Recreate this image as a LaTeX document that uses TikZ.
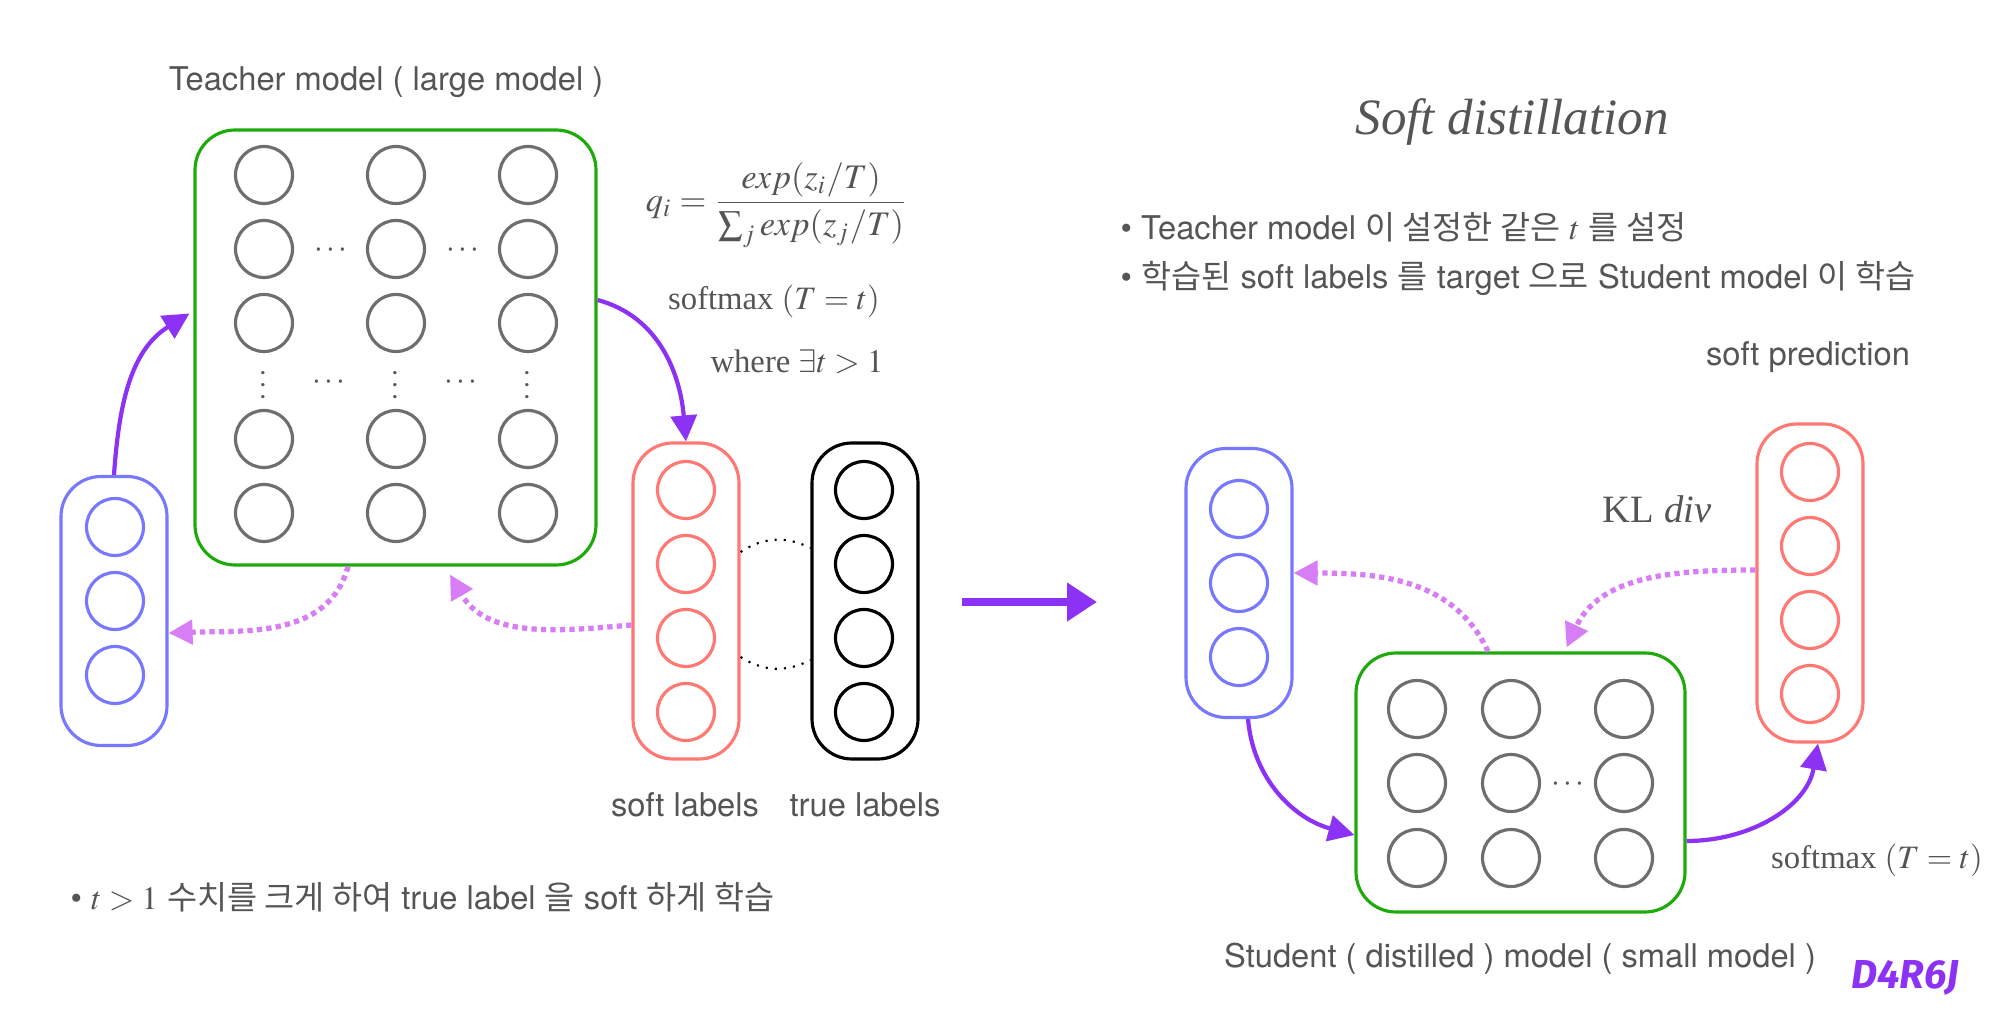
\documentclass[tikz,border=0pt]{standalone}
\usepackage{mathptmx}
\usepackage[no-math]{fontspec}
\setmainfont{TeX Gyre Heros}
\newfontfamily\kr{Noto Sans CJK KR}
\newfontfamily\tms{Liberation Serif}
\newfontfamily\sigfont{Fira Sans}
\usetikzlibrary{arrows.meta}

\definecolor{netgreen}{RGB}{30,170,10}
\definecolor{unitgray}{RGB}{110,110,110}
\definecolor{inblue}{RGB}{120,120,255}
\definecolor{softred}{RGB}{255,120,115}
\definecolor{fwdpurple}{RGB}{140,50,245}
\definecolor{backviolet}{RGB}{215,125,245}
\definecolor{txtgray}{RGB}{85,85,85}

\begin{document}
\begin{tikzpicture}[
                lbl/.style={text=txtgray, inner sep=0pt, font=\fontsize{9.3}{11}\selectfont},
                mth/.style={text=txtgray, inner sep=0pt, font=\tms\fontsize{9.3}{11}\selectfont},
                neuron/.style={circle, draw=#1, line width=0.9pt, minimum size=5.7mm, inner sep=0pt},
                pill/.style={draw=#1, line width=0.9pt, rounded corners=4mm, minimum width=1.06cm, inner sep=0pt},
                net/.style={draw=netgreen, line width=0.9pt, rounded corners=4mm, inner sep=0pt},
                dts/.style={text=txtgray, inner sep=0pt, font=\fontsize{9}{10}\selectfont},
                fwdarrow/.style={draw=fwdpurple, line width=1.2pt, -{Triangle[length=2.6mm, width=2.6mm]}},
                backarrow/.style={draw=backviolet, line width=1.5pt, dash pattern=on 1.5pt off 1.2pt, -{Triangle[length=2.4mm, width=2.4mm]}},
                link/.style={draw=black, line width=0.6pt, dotted}
            ]
            \useasboundingbox (0,0) rectangle (20,-10.17);

            % Teacher network
            \node[lbl] (ttl) at (3.86,-0.82) {Teacher model ( large model )};
            \node[net, minimum width=4.01cm, minimum height=4.35cm] (tch) at (3.955,-3.475) {};
            \node[neuron=unitgray] (t11) at (2.64,-1.75) {};
            \node[neuron=unitgray] (t12) at (3.96,-1.75) {};
            \node[neuron=unitgray] (t13) at (5.28,-1.75) {};
            \node[neuron=unitgray] (t21) at (2.64,-2.49) {};
            \node[neuron=unitgray] (t22) at (3.96,-2.49) {};
            \node[neuron=unitgray] (t23) at (5.28,-2.49) {};
            \node[neuron=unitgray] (t31) at (2.64,-3.23) {};
            \node[neuron=unitgray] (t32) at (3.96,-3.23) {};
            \node[neuron=unitgray] (t33) at (5.28,-3.23) {};
            \node[neuron=unitgray] (t41) at (2.64,-4.39) {};
            \node[neuron=unitgray] (t42) at (3.96,-4.39) {};
            \node[neuron=unitgray] (t43) at (5.28,-4.39) {};
            \node[neuron=unitgray] (t51) at (2.64,-5.13) {};
            \node[neuron=unitgray] (t52) at (3.96,-5.13) {};
            \node[neuron=unitgray] (t53) at (5.28,-5.13) {};
            \node[dts] (h21) at (3.31,-2.51) {$\cdots$};
            \node[dts] (h22) at (4.63,-2.51) {$\cdots$};
            \node[dts, rotate=90] (v1) at (2.64,-3.85) {$\cdots$};
            \node[dts, rotate=90] (v2) at (3.96,-3.85) {$\cdots$};
            \node[dts, rotate=90] (v3) at (5.28,-3.85) {$\cdots$};
            \node[dts] (h31) at (3.29,-3.83) {$\cdots$};
            \node[dts] (h32) at (4.61,-3.83) {$\cdots$};

            % Input layer
            \node[pill=inblue, minimum height=2.69cm] (bin) at (1.14,-6.11) {};
            \node[neuron=inblue] (b1) at (1.15,-5.27) {};
            \node[neuron=inblue] (b2) at (1.15,-6.01) {};
            \node[neuron=inblue] (b3) at (1.15,-6.75) {};

            % Soft labels and true labels
            \node[pill=softred, minimum height=3.16cm] (sl) at (6.86,-6.01) {};
            \node[neuron=softred] (s1) at (6.86,-4.90) {};
            \node[neuron=softred] (s2) at (6.86,-5.64) {};
            \node[neuron=softred] (s3) at (6.86,-6.38) {};
            \node[neuron=softred] (s4) at (6.86,-7.12) {};
            \node[pill=black, minimum height=3.16cm] (tl) at (8.65,-6.01) {};
            \node[neuron=black] (y1) at (8.64,-4.90) {};
            \node[neuron=black] (y2) at (8.64,-5.64) {};
            \node[neuron=black] (y3) at (8.64,-6.38) {};
            \node[neuron=black] (y4) at (8.64,-7.12) {};
            \node[lbl] (slb) at (6.85,-8.05) {soft labels};
            \node[lbl] (tlb) at (8.65,-8.05) {true labels};
            \draw[link] ([yshift=4.9mm]sl.east) to[bend left=30] ([yshift=5.3mm]tl.west);
            \draw[link] ([yshift=-5.6mm]sl.east) to[bend right=30] ([yshift=-5.9mm]tl.west);

            % Softmax with temperature
            \node[mth, font=\tms\fontsize{9.8}{12}\selectfont] (fq) at (7.77,-2.05) {$q_i=\displaystyle\frac{exp(z_i/T)}{\sum_j exp(z_j/T)}$};
            \node[mth] (smx) at (7.74,-3.01) {softmax $(T=t)$};
            \node[mth] (whr) at (7.97,-3.62) {where $\exists t>1$};

            \draw[fwdarrow] (bin.north) to[out=86, in=212] ([xshift=-0.4mm, yshift=3.4mm]tch.west);
            \draw[fwdarrow] ([yshift=4.75mm]tch.east) to[out=-15, in=95] (sl.north);
            \draw[backarrow] ([xshift=-4.75mm]tch.south) to[out=-105, in=2] ([yshift=-2.2mm]bin.east);
            \draw[backarrow] ([yshift=-2.4mm]sl.west) to[out=185, in=-60] ([xshift=5.45mm, yshift=-0.8mm]tch.south);

            \node[lbl, anchor=west] (note1) at (0.70,-8.97) {• $t>1$ {\kr 수치를 크게 하여} true label {\kr 을} soft {\kr 하게 학습}};

            % Arrow between halves
            \coordinate (bs) at (9.62,-6.02);
            \coordinate (be) at (10.97,-6.02);
            \draw[draw=fwdpurple, line width=2.3pt, -{Triangle[length=3mm, width=3.7mm]}] (bs) -- (be);

            % Soft distillation
            \node[text=txtgray, inner sep=0pt, font=\tms\itshape\fontsize{14.5}{16}\selectfont] (ttl2) at (15.12,-1.22) {Soft distillation};
            \node[lbl, anchor=west] (note2) at (11.20,-2.27) {• Teacher model {\kr 이 설정한 같은} $t$ {\kr 를 설정}};
            \node[lbl, anchor=west] (note3) at (11.20,-2.78) {• {\kr 학습된} soft labels {\kr 를} target {\kr 으로} Student model {\kr 이 학습}};
            \node[lbl] (spl) at (18.08,-3.57) {soft prediction};

            % Student network
            \node[pill=inblue, minimum height=2.69cm] (sin) at (12.39,-5.83) {};
            \node[neuron=inblue] (c1) at (12.39,-5.09) {};
            \node[neuron=inblue] (c2) at (12.39,-5.83) {};
            \node[neuron=inblue] (c3) at (12.39,-6.57) {};
            \node[net, minimum width=3.29cm, minimum height=2.59cm] (stu) at (15.205,-7.825) {};
            \node[neuron=unitgray] (u11) at (14.17,-7.09) {};
            \node[neuron=unitgray] (u12) at (15.11,-7.09) {};
            \node[neuron=unitgray] (u13) at (16.24,-7.09) {};
            \node[neuron=unitgray] (u21) at (14.17,-7.83) {};
            \node[neuron=unitgray] (u22) at (15.11,-7.83) {};
            \node[neuron=unitgray] (u23) at (16.24,-7.83) {};
            \node[neuron=unitgray] (u31) at (14.17,-8.58) {};
            \node[neuron=unitgray] (u32) at (15.11,-8.58) {};
            \node[neuron=unitgray] (u33) at (16.24,-8.58) {};
            \node[dts] (h2) at (15.68,-7.85) {$\cdots$};
            \node[pill=softred, minimum height=3.18cm] (spr) at (18.10,-5.83) {};
            \node[neuron=softred] (p1) at (18.10,-4.72) {};
            \node[neuron=softred] (p2) at (18.10,-5.46) {};
            \node[neuron=softred] (p3) at (18.10,-6.20) {};
            \node[neuron=softred] (p4) at (18.10,-6.94) {};
            \node[mth, font=\tms\fontsize{11}{13}\selectfont] (kl) at (16.57,-5.09) {KL \textit{div}};
            \node[mth] (smx2) at (18.77,-8.60) {softmax $(T=t)$};
            \node[lbl] (stl) at (15.20,-9.59) {Student ( distilled ) model ( small model )};

            \draw[fwdarrow] ([xshift=0.9mm]sin.south) to[out=-85, in=165] ([yshift=-5.25mm]stu.west);
            \draw[fwdarrow] ([yshift=-5.85mm]stu.east) to[out=0, in=-100] ([xshift=0.8mm]spr.south);
            \draw[backarrow] ([xshift=-3.25mm]stu.north) to[out=115, in=0] ([yshift=1mm]sin.east);
            \draw[backarrow] ([yshift=1.3mm]spr.west) to[out=180, in=65] ([xshift=4.6mm, yshift=0.4mm]stu.north);

            \node[text=fwdpurple, inner sep=0pt, font=\sigfont\bfseries\itshape\fontsize{11.5}{13}\selectfont] (sig) at (19.05,-9.78) {D4R6J};

            \end{tikzpicture}
\end{document}
